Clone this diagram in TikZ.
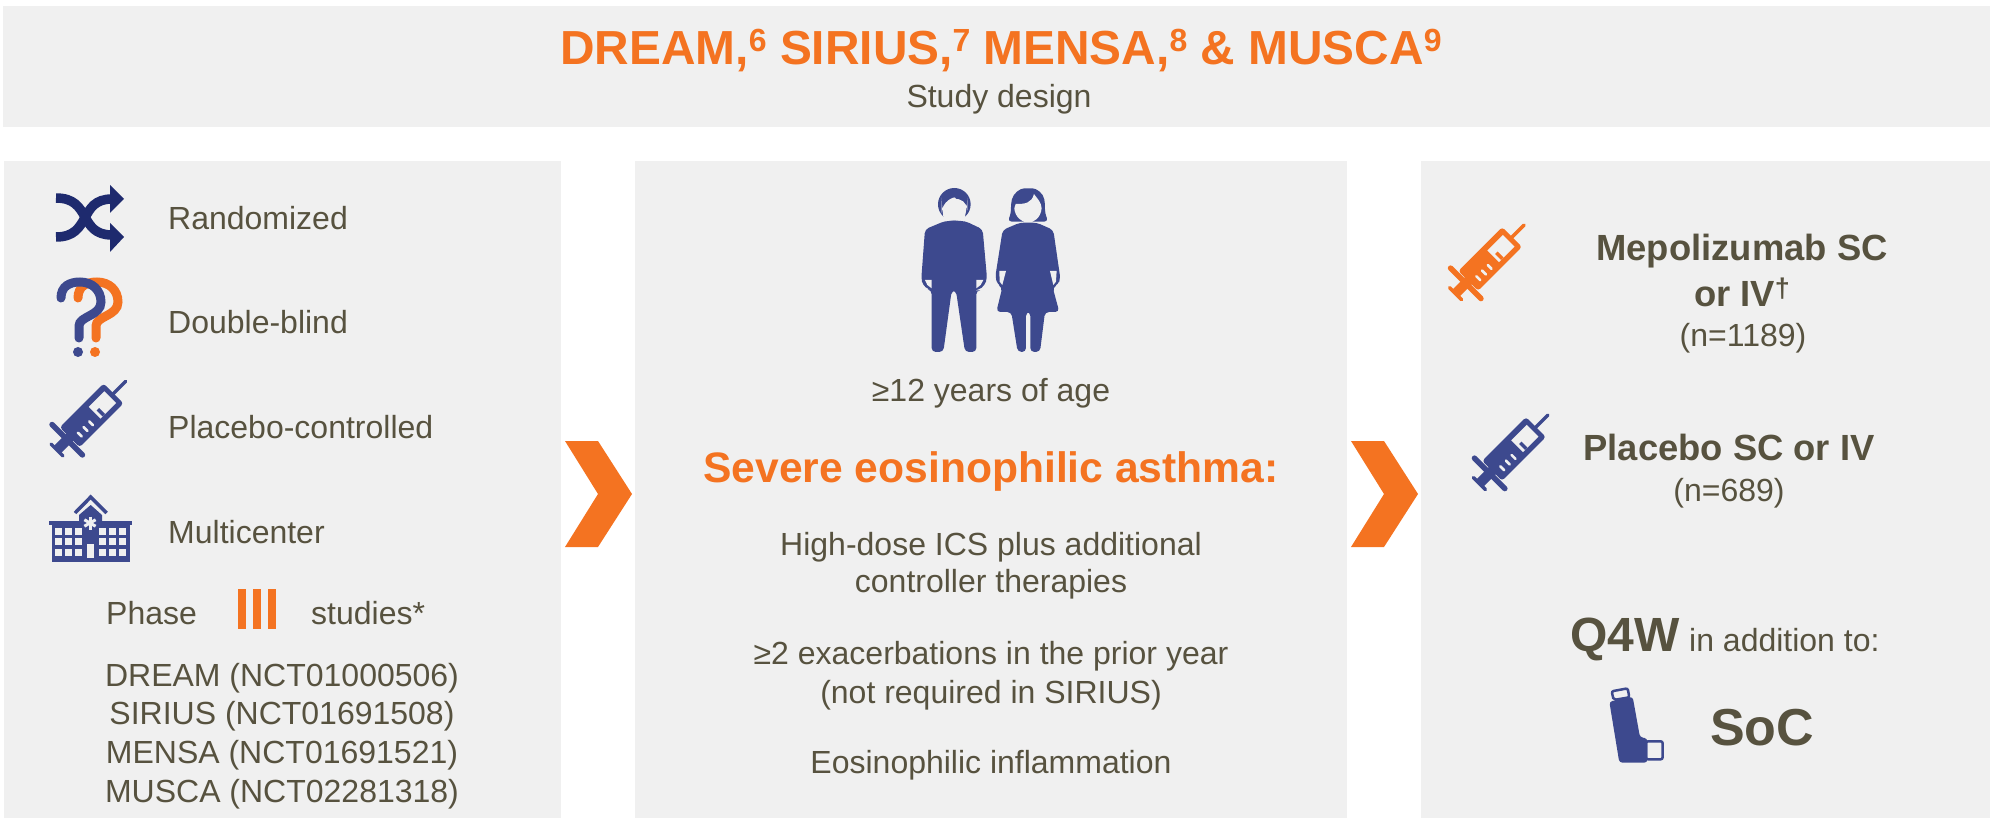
\documentclass[tikz,border=0pt]{standalone}
\usepackage{fontspec}
\setmainfont{Liberation Sans}
\usepackage{tikz}
\usetikzlibrary{positioning}
\definecolor{soft}{HTML}{F0F0F0}
\definecolor{ink}{HTML}{57523F}
\definecolor{tangerine}{HTML}{F47321}
\definecolor{navy}{HTML}{3D498E}
\definecolor{deepnavy}{HTML}{1E2A6E}
\newcommand{\fsz}[1]{\fontsize{#1}{#1}\selectfont}
\newcommand{\supnum}[1]{\raisebox{13pt}{\fsz{32}#1}}

\begin{document}
\begin{tikzpicture}[
x=1pt,y=-1pt,
node distance=74pt,
panel/.style={fill=soft,inner sep=0pt,outer sep=0pt,anchor=north west},
lab/.style={anchor=base west,inner sep=0pt,text=ink,font=\fsz{32}},
mid/.style={anchor=base,inner sep=0pt,text=ink,font=\fsz{32}},
strong/.style={anchor=base,inner sep=0pt,text=ink,font=\fsz{36.4}\bfseries},
pics/chev/.style={code={
  \fill[tangerine] (0,0)--(33,0)--(67,53)--(33,106)--(0,106)--(33,53)--cycle;}},
pics/qmark/.style={code={
  \draw[#1,line width=9pt,line cap=round] (0,18) .. controls (0,6) and (9,2) .. (19,2)
    .. controls (31,2) and (40,10) .. (40,22) .. controls (40,36) and (18,36) .. (18,46)--(18,58);
  \fill[#1] (17,72) circle (5);}},
pics/syringe/.style={code={
  \draw[#1,line width=3.5pt,line cap=round] (0,-8.5)--(0,8.5);
  \fill[#1] (0,-5) rectangle (20,5);
  \draw[#1,line width=5.5pt,line cap=round] (14.5,-21.5)--(14.5,21.5);
  \fill[#1,rounded corners=3pt] (18,-14) rectangle (80,14);
  \draw[#1,line width=3.4pt,line cap=round] (79,0)--(97,0);
  \fill[soft] (53,-8) rectangle (75,8.5);
  \fill[#1] (56,0) rectangle (59.5,8.5);
  \foreach \tick in {27,35,43}
    \draw[soft,line width=2.6pt,line cap=round] (\tick,2.5)--(\tick,8);}}
]
\useasboundingbox (0,0) rectangle (1990,818);

\node[panel,minimum width=1987pt,minimum height=121pt] (head) at (3,6) {};
\node[panel,minimum width=557pt,minimum height=657pt] (left) at (4,161) {};
\node[panel,minimum width=712pt,minimum height=657pt,right=of left] (center) {};
\node[panel,minimum width=569pt,minimum height=657pt,right=of center] (right) {};

\node[anchor=base,inner sep=0pt,text=tangerine,font=\fsz{47.8}\bfseries] (title) at (1001,65)
  {DREAM,\supnum{6} SIRIUS,\supnum{7} MENSA,\supnum{8} \& MUSCA\supnum{9}};
\node[mid] (subtitle) at (999,108) {Study design};

\foreach \name/\txt/\yy in {rand/Randomized/230,blind/Double-blind/334,
    ctrl/Placebo-controlled/438,multi/Multicenter/543}
  \node[lab] (\name) at (168,\yy) {\txt};
\node[lab] (phase) at (106,624) {Phase};
\node[lab] (studies) at (311,624) {studies*};
\foreach \name/\xx in {barA/238,barB/253,barC/268}
  \node[fill=tangerine,inner sep=0pt,anchor=north west,minimum width=8pt,minimum height=40pt] (\name) at (\xx,589) {};
\foreach \name/\txt/\yy in {dream/DREAM (NCT01000506)/686,sirius/SIRIUS (NCT01691508)/724,
    mensa/MENSA (NCT01691521)/763,musca/MUSCA (NCT02281318)/802}
  \node[mid] (\name) at (282,\yy) {\txt};

\pic at (565,441) {chev};
\pic at (1351,441) {chev};

\node[mid] (age) at (991,401) {≥12 years of age};
\node[anchor=base,inner sep=0pt,text=tangerine,font=\fsz{42.6}\bfseries] (severe) at (991,482) {Severe eosinophilic asthma:};
\node[mid] (ics) at (991,555) {High-dose ICS plus additional};
\node[mid] (therapies) at (991,592) {controller therapies};
\node[mid] (exac) at (991,664) {≥2 exacerbations in the prior year};
\node[mid] (notreq) at (991,703) {(not required in SIRIUS)};
\node[mid] (inflam) at (991,773) {Eosinophilic inflammation};

\node[strong] (mepo) at (1742,261) {Mepolizumab SC};
\node[strong] (mepoiv) at (1742,307) {or IV\raisebox{9pt}{\fsz{27}†}};
\node[mid] (mepon) at (1743,347) {(n=1189)};
\node[strong] (plac) at (1729,460) {Placebo SC or IV};
\node[mid] (placn) at (1729,501) {(n=689)};
\node[anchor=base west,inner sep=0pt,text=ink,font=\fsz{48}\bfseries] (qfour) at (1570,651) {Q4W};
\node[lab] (addition) at (1689,651) {in addition to:};
\node[anchor=base west,inner sep=0pt,text=ink,font=\fsz{52}\bfseries] (soc) at (1710,745) {SoC};

\draw[deepnavy,line width=9.5pt] (56,198) .. controls (92,198) and (78,235) .. (112,235);
\draw[deepnavy,line width=9.5pt] (56,237) .. controls (92,237) and (78,199) .. (112,199);
\fill[deepnavy] (110,185)--(124,199)--(110,213)--cycle (110,223)--(124,237)--(110,252)--cycle;

\pic at (78,280) {qmark=tangerine};
\pic at (61,280) {qmark=navy};

\pic[rotate=45] at (57,450) {syringe=navy};
\pic[rotate=45] at (1455.5,293.6) {syringe=tangerine};
\pic[rotate=45] at (1479.4,483.6) {syringe=navy};

\fill[navy] (51.7,523) rectangle (130,562);
\fill[navy] (49,521) rectangle (132,525);
\fill[navy] (79,525)--(79,515)--(90.7,505)--(102,515)--(102,525)--cycle;
\draw[navy,line width=3.5pt] (75,513)--(90.7,497)--(106.7,513);
\foreach \xx in {58.3,68.3,78.3,102.3,112.7,122.7}
  \foreach \yy in {531.7,541.7,552.3}
    \fill[soft] (\xx-3.3,\yy-3.3) rectangle (\xx+3.3,\yy+3.3);
\fill[soft] (86.7,544) rectangle (94.3,558);
\foreach \ang in {0,60,120}
  \draw[soft,line width=3pt,rotate around={\ang:(90,523)}] (90,516.5)--(90,529.5);

\begin{scope}[shift={(850,170)},x=.3333pt,y=-.3333pt]
\fill[navy] (313,103) circle (49);
\fill[soft,rounded corners=14pt] (275,88) .. controls (300,84) and (330,84) .. (352,80)
  -- (352,125) .. controls (345,145) and (328,151) .. (313,151) .. controls (298,151) and (280,145) .. (275,125) -- cycle;
\fill[navy,rounded corners=4pt] (285,153)--(345,153)--(398,178)--(411,325)--(405,345)--(385,361)--(379,361)--(379,546)--(345,546)--(318,362)--(305,362)--(280,546)--(245,546)--(245,361)--(235,358)--(218,345)--(214,325)--(225,178)--cycle;
\fill[soft] (225,330)--(245,330)--(245,355)--(232,345)--cycle;
\fill[soft] (379,330)--(400,330)--(392,345)--(379,355)--cycle;
\fill[navy,rounded corners=4pt] (473,155)--(483,130)--(483,100) .. controls (490,70) and (510,55) .. (535,55) .. controls (560,55) and (580,70) .. (585,100)--(585,130)--(595,155)--cycle;
\fill[soft] (497,102) .. controls (525,102) and (545,100) .. (552,72) .. controls (565,90) and (573,95) .. (575,115)
  .. controls (572,145) and (550,158) .. (535,158) .. controls (515,158) and (495,140) .. (493,115) -- cycle;
\fill[navy,rounded corners=4pt] (510,158)--(560,158)--(610,180)--(631,325)--(625,343)--(608,352)--(628,426)--(585,426)--(570,546)--(541,546)--(541,426)--(528,426)--(528,546)--(503,546)--(484,426)--(439,426)--(457,352)--(442,343)--(436,320)--(458,180)--cycle;
\fill[soft] (448,303)--(468,303)--(457,345)--(449,335)--cycle;
\fill[soft] (600,303)--(620,303)--(618,335)--(610,345)--cycle;
\end{scope}

\begin{scope}[shift={(1500,580)},x=.3333pt,y=-.3333pt]
\draw[navy,line width=2.5pt,fill=soft,rounded corners=2pt] (335,334)--(383,325)--(388,352)--(341,360)--cycle;
\draw[navy,line width=2.5pt,fill=soft,rounded corners=2pt] (438,484)--(488,484)--(488,538)--(438,538)--cycle;
\fill[navy,rounded corners=3pt] (328,365)--(398,350)--(420,472)--(442,475)--(442,548)--(358,548)--cycle;
\end{scope}
\end{tikzpicture}
\end{document}
